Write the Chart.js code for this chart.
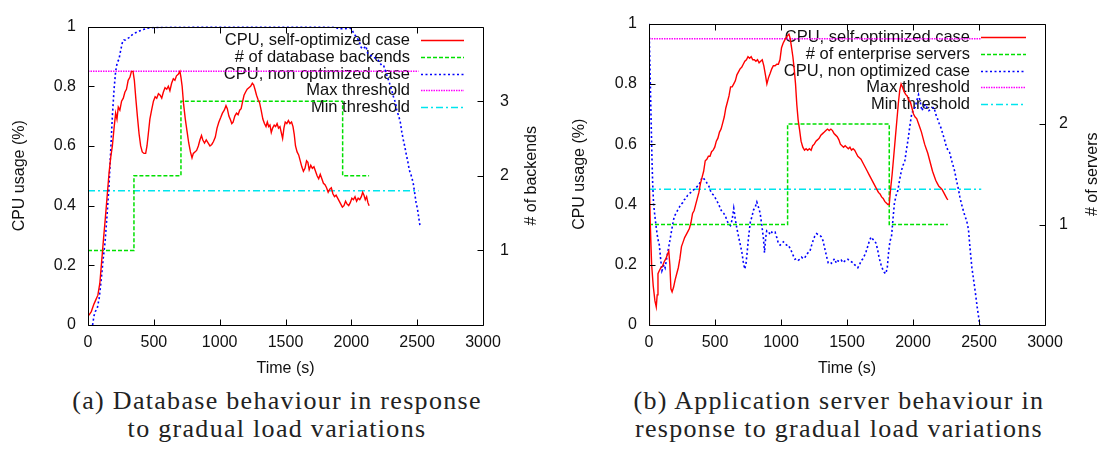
<!DOCTYPE html>
<html>
<head>
<meta charset="utf-8">
<script src="https://cdn.jsdelivr.net/npm/chart.js@4.4.1/dist/chart.umd.min.js"></script>
<style>
  body { margin: 0; background: #fff; width: 1104px; height: 449px; overflow: hidden; position: relative; }
  .box { position: absolute; top: 0; height: 385px; }
  .cap { position: absolute; top: 387px; width: 500px; font-family: 'Liberation Serif', serif; font-size: 26px;
         line-height: 28px; letter-spacing: 1.3px; color: #222; text-align: center; white-space: nowrap; }
</style>
</head>
<body>
<div class="box" style="left:0;width:560px"><canvas id="dbChart" width="560" height="385"></canvas></div>
<div class="box" style="left:560px;width:544px"><canvas id="appChart" width="544" height="385"></canvas></div>
<div class="cap" style="left:27px">(a) Database behaviour in response<br>to gradual load variations</div>
<div class="cap" style="left:589px">(b) Application server behaviour in<br>response to gradual load variations</div>
<script>
// (a) database tier: [time s, CPU]
var dbSelfOpt = [[0,0.03],[10,0.035],[25,0.045],[45,0.07],[60,0.085],[75,0.1],[90,0.14],[105,0.22],[120,0.3],[132,0.36],
  [145,0.43],[160,0.51],[172,0.56],[185,0.6],[198,0.66],[210,0.71],[220,0.69],[230,0.73],[242,0.72],[255,0.75],
  [268,0.76],[280,0.78],[292,0.79],[305,0.82],[318,0.83],[330,0.85],[342,0.85],[352,0.82],[363,0.76],[375,0.7],
  [388,0.64],[400,0.6],[412,0.58],[425,0.575],[438,0.575],[448,0.6],[458,0.64],[470,0.69],[483,0.72],[497,0.75],
  [510,0.765],[522,0.76],[535,0.775],[548,0.77],[560,0.76],[572,0.78],[585,0.795],[598,0.79],[610,0.8],[622,0.785],
  [635,0.81],[648,0.825],[660,0.82],[672,0.835],[685,0.84],[698,0.85],[706,0.83],[715,0.8],[726,0.74],[739,0.69],
  [752,0.65],[765,0.61],[778,0.58],[790,0.56],[800,0.575],[812,0.58],[825,0.585],[838,0.6],[850,0.62],[862,0.635],
  [872,0.62],[885,0.61],[898,0.62],[912,0.61],[926,0.6],[940,0.605],[953,0.615],[967,0.63],[980,0.66],[994,0.68],
  [1008,0.695],[1021,0.71],[1035,0.72],[1048,0.735],[1058,0.725],[1070,0.7],[1080,0.69],[1092,0.675],[1102,0.68],
  [1115,0.7],[1128,0.71],[1140,0.705],[1152,0.72],[1163,0.725],[1175,0.75],[1185,0.77],[1196,0.78],[1209,0.79],
  [1222,0.795],[1235,0.8],[1248,0.81],[1258,0.805],[1268,0.79],[1280,0.77],[1292,0.755],[1303,0.745],[1315,0.72],
  [1328,0.69],[1340,0.675],[1352,0.665],[1362,0.68],[1372,0.665],[1382,0.67],[1392,0.645],[1402,0.66],[1414,0.67],
  [1425,0.665],[1436,0.675],[1447,0.66],[1458,0.665],[1468,0.645],[1478,0.625],[1488,0.66],[1498,0.68],[1510,0.675],
  [1522,0.685],[1534,0.675],[1546,0.68],[1557,0.665],[1566,0.64],[1576,0.6],[1588,0.58],[1600,0.57],[1612,0.55],
  [1624,0.53],[1636,0.515],[1648,0.525],[1660,0.55],[1670,0.545],[1680,0.52],[1692,0.535],[1704,0.525],[1716,0.53],
  [1728,0.515],[1740,0.5],[1752,0.49],[1764,0.505],[1776,0.49],[1788,0.475],[1800,0.47],[1812,0.46],[1824,0.445],
  [1836,0.455],[1848,0.46],[1860,0.44],[1872,0.43],[1884,0.435],[1896,0.425],[1908,0.415],[1920,0.405],[1932,0.395],
  [1944,0.4],[1956,0.415],[1968,0.405],[1980,0.4],[1992,0.41],[2004,0.425],[2016,0.42],[2028,0.43],[2040,0.415],
  [2052,0.425],[2064,0.42],[2076,0.43],[2086,0.445],[2096,0.435],[2106,0.42],[2116,0.43],[2126,0.41],[2135,0.4]];
var dbNonOpt = [[35,0],[45,0.03],[55,0.045],[70,0.055],[85,0.09],[100,0.15],[115,0.22],[130,0.28],[145,0.37],[160,0.47],
  [172,0.58],[185,0.7],[198,0.79],[210,0.85],[222,0.88],[235,0.89],[248,0.92],[260,0.945],[272,0.955],[285,0.955],
  [300,0.96],[320,0.965],[340,0.975],[365,0.98],[390,0.985],[420,0.99],[450,0.995],[500,0.997],[600,0.998],[800,0.999],
  [1000,0.999],[1200,0.999],[1400,0.999],[1600,0.999],[1800,0.999],[1880,0.998],[1900,0.993],[1950,0.993],[1990,0.995],
  [2005,0.99],[2020,0.975],[2040,0.965],[2060,0.95],[2075,0.93],[2090,0.925],[2110,0.935],[2125,0.91],[2140,0.905],
  [2160,0.9],[2180,0.895],[2200,0.89],[2215,0.88],[2230,0.87],[2245,0.87],[2260,0.85],[2275,0.83],[2290,0.81],
  [2305,0.79],[2320,0.765],[2335,0.745],[2345,0.72],[2360,0.7],[2372,0.68],[2382,0.65],[2395,0.62],[2405,0.6],
  [2418,0.57],[2428,0.55],[2440,0.52],[2452,0.505],[2462,0.49],[2472,0.47],[2482,0.44],[2492,0.41],[2502,0.39],
  [2512,0.36],[2522,0.33]];
var dbBackends = [[0,1],[349,2],[706,3],[1934,2],[2135,2]];
var dbMaxThreshold = 0.85;
var dbMinThreshold = 0.45;
var dbThresholdEnd = 2510;
var backendTicks = [1, 2, 3];

// (b) application server tier: [time s, CPU]
var appSelfOpt = [[0,0],[3,0.47],[10,0.33],[20,0.2],[32,0.13],[45,0.08],[55,0.06],[62,0.1],[68,0.17],[78,0.18],
  [90,0.19],[102,0.195],[115,0.21],[128,0.22],[140,0.235],[150,0.245],[158,0.2],[166,0.12],[175,0.11],[186,0.125],
  [198,0.15],[210,0.17],[222,0.19],[234,0.22],[246,0.26],[258,0.275],[270,0.29],[282,0.3],[294,0.31],[306,0.32],
  [318,0.34],[330,0.37],[342,0.38],[354,0.4],[366,0.42],[378,0.44],[390,0.47],[402,0.49],[414,0.51],[426,0.545],
  [438,0.55],[450,0.56],[462,0.56],[474,0.575],[486,0.58],[498,0.59],[510,0.61],[522,0.62],[534,0.64],[546,0.65],
  [558,0.67],[570,0.69],[582,0.72],[594,0.74],[606,0.76],[618,0.79],[630,0.79],[642,0.8],[654,0.81],[666,0.83],
  [678,0.84],[690,0.85],[702,0.855],[714,0.865],[726,0.875],[738,0.88],[750,0.89],[762,0.885],[774,0.89],[786,0.88],
  [798,0.88],[810,0.875],[822,0.88],[834,0.87],[846,0.875],[858,0.88],[870,0.86],[882,0.83],[893,0.8],[905,0.82],
  [918,0.835],[930,0.85],[942,0.86],[955,0.86],[968,0.865],[980,0.865],[992,0.88],[1004,0.92],[1016,0.935],[1028,0.945],
  [1040,0.955],[1050,0.96],[1060,0.965],[1070,0.95],[1080,0.92],[1090,0.89],[1100,0.85],[1110,0.8],[1120,0.73],
  [1130,0.68],[1140,0.65],[1152,0.61],[1165,0.59],[1178,0.58],[1190,0.585],[1202,0.58],[1215,0.585],[1228,0.58],
  [1240,0.595],[1252,0.6],[1265,0.61],[1278,0.615],[1290,0.62],[1302,0.63],[1315,0.635],[1328,0.64],[1340,0.645],
  [1352,0.65],[1365,0.645],[1378,0.65],[1390,0.645],[1402,0.635],[1414,0.63],[1426,0.625],[1438,0.615],[1450,0.6],
  [1462,0.595],[1474,0.59],[1486,0.595],[1498,0.59],[1510,0.585],[1522,0.59],[1534,0.58],[1546,0.585],[1558,0.58],
  [1570,0.57],[1582,0.56],[1594,0.555],[1606,0.55],[1618,0.54],[1630,0.53],[1642,0.52],[1654,0.51],[1666,0.5],
  [1678,0.49],[1690,0.48],[1702,0.47],[1714,0.46],[1726,0.45],[1738,0.44],[1750,0.435],[1762,0.425],[1774,0.42],
  [1786,0.41],[1798,0.405],[1810,0.4],[1820,0.4],[1830,0.45],[1842,0.5],[1854,0.56],[1866,0.62],[1878,0.68],
  [1890,0.74],[1900,0.78],[1910,0.8],[1920,0.79],[1932,0.775],[1944,0.765],[1956,0.76],[1968,0.745],[1980,0.74],
  [1992,0.72],[2004,0.7],[2016,0.69],[2028,0.685],[2040,0.67],[2052,0.655],[2064,0.64],[2076,0.62],[2088,0.6],
  [2100,0.585],[2112,0.57],[2124,0.55],[2136,0.53],[2148,0.51],[2160,0.495],[2172,0.48],[2184,0.47],[2196,0.46],
  [2208,0.455],[2220,0.45],[2232,0.44],[2244,0.43],[2256,0.42],[2264,0.415]];
var appNonOpt = [[0,1],[5,0.9],[10,0.8],[16,0.68],[22,0.56],[28,0.467],[35,0.4],[45,0.36],[53,0.33],[62,0.3],
  [70,0.28],[78,0.266],[88,0.22],[98,0.18],[106,0.19],[113,0.2],[122,0.19],[132,0.215],[141,0.24],[150,0.26],
  [158,0.28],[166,0.3],[178,0.33],[191,0.36],[204,0.37],[216,0.38],[229,0.39],[241,0.4],[254,0.405],[266,0.415],
  [279,0.42],[292,0.43],[304,0.435],[317,0.44],[329,0.445],[342,0.45],[354,0.455],[366,0.46],[379,0.465],[392,0.48],
  [404,0.49],[416,0.485],[428,0.48],[440,0.47],[454,0.46],[466,0.445],[478,0.435],[492,0.43],[504,0.42],[516,0.41],
  [529,0.4],[541,0.385],[554,0.375],[567,0.37],[580,0.36],[592,0.345],[604,0.335],[617,0.33],[630,0.35],[642,0.387],
  [654,0.35],[667,0.318],[680,0.29],[692,0.266],[704,0.24],[714,0.21],[725,0.186],[734,0.2],[742,0.234],[754,0.29],
  [767,0.34],[780,0.36],[792,0.382],[804,0.39],[817,0.408],[830,0.39],[842,0.371],[855,0.33],[867,0.287],[875,0.24],
  [884,0.29],[892,0.313],[905,0.31],[918,0.3],[930,0.308],[942,0.305],[955,0.308],[968,0.29],[980,0.271],[993,0.265],
  [1005,0.27],[1018,0.276],[1030,0.27],[1043,0.265],[1055,0.266],[1068,0.255],[1080,0.244],[1093,0.23],[1106,0.218],
  [1118,0.22],[1130,0.215],[1143,0.218],[1156,0.225],[1168,0.22],[1181,0.223],[1194,0.235],[1206,0.24],[1219,0.244],
  [1232,0.265],[1244,0.281],[1256,0.295],[1269,0.303],[1281,0.3],[1294,0.298],[1306,0.292],[1318,0.28],[1331,0.255],
  [1344,0.23],[1357,0.207],[1370,0.21],[1382,0.205],[1394,0.213],[1406,0.22],[1419,0.205],[1432,0.213],[1444,0.21],
  [1457,0.215],[1470,0.207],[1482,0.212],[1495,0.218],[1507,0.218],[1520,0.212],[1532,0.21],[1545,0.207],[1557,0.2],
  [1570,0.195],[1582,0.19],[1595,0.2],[1607,0.213],[1620,0.22],[1632,0.23],[1645,0.244],[1658,0.262],[1670,0.28],
  [1683,0.292],[1695,0.285],[1708,0.28],[1720,0.271],[1732,0.25],[1745,0.22],[1758,0.2],[1770,0.185],[1782,0.175],
  [1794,0.17],[1805,0.19],[1815,0.24],[1825,0.276],[1838,0.297],[1848,0.35],[1859,0.403],[1872,0.43],[1885,0.446],
  [1898,0.48],[1911,0.51],[1924,0.53],[1937,0.541],[1950,0.58],[1963,0.616],[1976,0.66],[1990,0.7],[2003,0.715],
  [2016,0.722],[2029,0.745],[2042,0.764],[2055,0.74],[2068,0.711],[2081,0.725],[2094,0.732],[2107,0.72],[2120,0.711],
  [2133,0.715],[2146,0.72],[2159,0.722],[2172,0.7],[2185,0.685],[2198,0.669],[2211,0.655],[2225,0.635],[2238,0.616],
  [2251,0.595],[2264,0.58],[2277,0.573],[2290,0.55],[2303,0.53],[2316,0.51],[2329,0.48],[2342,0.455],[2355,0.425],
  [2368,0.4],[2381,0.38],[2394,0.361],[2407,0.345],[2420,0.318],[2433,0.25],[2446,0.191],[2459,0.15],[2473,0.106],
  [2486,0.06],[2499,0.021],[2507,0]];
var appServers = [[0,1],[1050,2],[1820,1],[2264,1]];
var appMaxThreshold = 0.95;
var appMinThreshold = 0.45;
var appThresholdEnd = 2517;
var serverTicks = [1, 2];

var timeTicks = [0, 500, 1000, 1500, 2000, 2500, 3000];
var cpuTicks = [0, 0.2, 0.4, 0.6, 0.8, 1];

var FONT = '"Liberation Sans", Arial, sans-serif';
var INK = '#111';

function line(label, pts, color, dash, width, axis, extra) {
  return Object.assign({
    label: label,
    data: pts.map(function (p) { return { x: p[0], y: p[1] }; }),
    borderColor: color,
    borderDash: dash,
    borderWidth: width,
    pointRadius: 0,
    tension: 0,
    fill: false,
    yAxisID: axis
  }, extra || {});
}

function flat(v, end) { return [[0, v], [end, v]]; }

// plain number labels, no grouping: 1000, 0.2, 1
function num(v) { return String(Math.round(v * 100) / 100); }

// gnuplot style frame: box, inward tics, y2 title and the key in the top right
var frame = {
  id: 'frame',
  beforeDatasetsDraw: function (chart, args, o) {
    var ctx = chart.ctx, a = chart.chartArea;
    ctx.save();
    ctx.font = '16.5px ' + FONT;
    ctx.textAlign = 'right';
    ctx.textBaseline = 'middle';
    chart.data.datasets.forEach(function (ds, i) {
      var y = Math.round(a.top + 13.7 + i * 16.6) + 0.5;
      ctx.fillStyle = INK;
      ctx.fillText(ds.label, a.right - o.keyText, y);
      ctx.strokeStyle = ds.borderColor;
      ctx.lineWidth = Math.max(ds.borderWidth, 1.5);
      ctx.setLineDash(ds.borderDash || []);
      ctx.beginPath();
      ctx.moveTo(a.right - o.keyText + 11, y);
      ctx.lineTo(a.right - 19, y);
      ctx.stroke();
    });
    ctx.restore();
  },
  afterDraw: function (chart, args, o) {
    var ctx = chart.ctx, a = chart.chartArea, s = chart.scales;
    var L = Math.round(a.left) + 0.5, R = Math.round(a.right) + 0.5;
    var T = Math.round(a.top) + 0.5, B = Math.round(a.bottom) + 0.5;
    ctx.save();
    ctx.strokeStyle = '#000';
    ctx.lineWidth = 1;
    ctx.setLineDash([]);
    ctx.beginPath();
    timeTicks.forEach(function (t) {
      var x = Math.round(s.x.getPixelForValue(t)) + 0.5;
      ctx.moveTo(x, B); ctx.lineTo(x, B - 6);
      ctx.moveTo(x, T); ctx.lineTo(x, T + 6);
    });
    cpuTicks.forEach(function (v) {
      var y = Math.round(s.y.getPixelForValue(v)) + 0.5;
      ctx.moveTo(L, y); ctx.lineTo(L + 6, y);
    });
    o.y2Ticks.forEach(function (v) {
      var y = Math.round(s.y2.getPixelForValue(v)) + 0.5;
      ctx.moveTo(R, y); ctx.lineTo(R - 6, y);
    });
    ctx.rect(L, T, R - L, B - T);
    ctx.stroke();

    ctx.translate(a.right + o.y2TitleGap, (a.top + a.bottom) / 2);
    ctx.rotate(-Math.PI / 2);
    ctx.font = '16px ' + FONT;
    ctx.fillStyle = INK;
    ctx.textAlign = 'center';
    ctx.textBaseline = 'middle';
    ctx.fillText(o.y2Title, 0, 0);
    ctx.restore();
  }
};

function makeChart(id, datasets, cfg) {
  var font = { family: FONT, size: 16 };
  return new Chart(document.getElementById(id), {
    type: 'line',
    data: { datasets: datasets },
    plugins: [frame],
    options: {
      responsive: false,
      animation: false,
      events: [],
      layout: { padding: { top: 13, left: 0, right: 0, bottom: 0 } },
      plugins: {
        legend: { display: false },
        tooltip: { enabled: false },
        frame: { y2Title: cfg.y2Title, y2Ticks: cfg.y2Ticks, y2TitleGap: cfg.y2TitleGap, keyText: cfg.keyText }
      },
      scales: {
        x: {
          type: 'linear', min: 0, max: 3000,
          ticks: { stepSize: 500, padding: 8, color: INK, font: font, maxRotation: 0, callback: num },
          grid: { display: false, drawTicks: false },
          border: { display: false },
          title: { display: true, text: 'Time (s)', color: INK, font: font, padding: { top: 0, bottom: 6.4 } },
          afterFit: function (sc) { sc.height = 60; }
        },
        y: {
          position: 'left', min: 0, max: 1,
          ticks: { stepSize: 0.2, padding: 12, color: INK, font: font, callback: num },
          grid: { display: false, drawTicks: false },
          border: { display: false },
          title: { display: true, text: 'CPU usage (%)', color: INK, font: font, padding: { top: 10, bottom: 0 } },
          afterFit: function (sc) { sc.width = cfg.yWidth; }
        },
        y2: {
          position: 'right', min: 0, max: cfg.y2Max,
          ticks: {
            stepSize: 1, padding: cfg.y2Pad, color: INK, font: font,
            callback: function (v) { return cfg.y2Ticks.indexOf(v) >= 0 ? String(v) : ''; }
          },
          grid: { display: false, drawTicks: false },
          border: { display: false },
          afterFit: function (sc) { sc.width = cfg.y2Width; }
        }
      }
    }
  });
}

var RED = '#ff0000', GREEN = '#00e000', BLUE = '#0000ff', MAGENTA = '#ff00ff', CYAN = '#00e5ee';

makeChart('dbChart', [
  line('CPU, self-optimized case', dbSelfOpt, RED, [], 1.4, 'y'),
  line('# of database backends', dbBackends, GREEN, [4, 2], 1.5, 'y2', { stepped: true }),
  line('CPU, non optimized case', dbNonOpt, BLUE, [2, 2.5], 1.6, 'y'),
  line('Max threshold', flat(dbMaxThreshold, dbThresholdEnd), MAGENTA, [1.5, 1], 1.5, 'y'),
  line('Min threshold', flat(dbMinThreshold, dbThresholdEnd), CYAN, [7, 3, 2, 3], 1.5, 'y')
], { y2Title: '# of backends', y2Ticks: backendTicks, y2Max: 4, yWidth: 88, y2Width: 77, y2Pad: 17,
     y2TitleGap: 49, keyText: 73 });

makeChart('appChart', [
  line('CPU, self-optimized case', appSelfOpt, RED, [], 1.4, 'y'),
  line('# of enterprise servers', appServers, GREEN, [4, 2], 1.5, 'y2', { stepped: true }),
  line('CPU, non optimized case', appNonOpt, BLUE, [2, 2.5], 1.6, 'y'),
  line('Max threshold', flat(appMaxThreshold, appThresholdEnd), MAGENTA, [1.5, 1], 1.5, 'y'),
  line('Min threshold', flat(appMinThreshold, appThresholdEnd), CYAN, [7, 3, 2, 3], 1.5, 'y')
], { y2Title: '# of servers', y2Ticks: serverTicks, y2Max: 3, yWidth: 89, y2Width: 59, y2Pad: 14,
     y2TitleGap: 48, keyText: 75 });
</script>
</body>
</html>
